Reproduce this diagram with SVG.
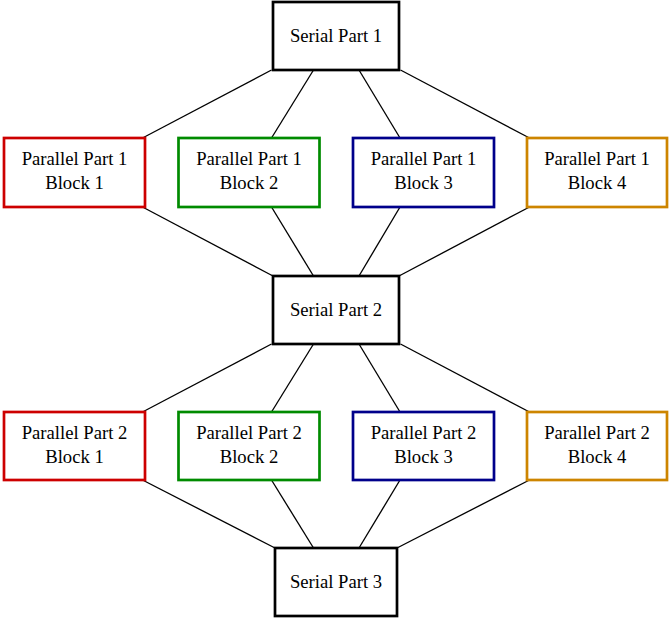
<svg xmlns="http://www.w3.org/2000/svg" width="669" height="619" viewBox="0 0 669 619">
<style>
.box{fill:#ffffff;stroke-width:2.7}
.s{stroke:#000000}
.r{stroke:#cd0000}
.g{stroke:#008b00}
.b{stroke:#00008b}
.o{stroke:#cd8500}
text{font-family:'Liberation Serif','Times New Roman',Times,'DejaVu Serif',serif;font-size:18.67px;fill:#000000;text-anchor:middle}
#edges line{stroke:#000000;stroke-width:1.33}
</style>
<rect width="669" height="619" fill="#ffffff"/>
<g id="edges">
<line x1="271.5" y1="70" x2="142.5" y2="138"/>
<line x1="313.5" y1="70" x2="271.5" y2="138"/>
<line x1="359" y1="70" x2="400" y2="138"/>
<line x1="400.5" y1="70" x2="529.5" y2="138"/>
<line x1="142.5" y1="207" x2="273" y2="276"/>
<line x1="271.5" y1="207" x2="313.5" y2="276"/>
<line x1="400" y1="207" x2="359" y2="276"/>
<line x1="529.5" y1="207" x2="399" y2="276"/>
<line x1="271.5" y1="344" x2="142.5" y2="412"/>
<line x1="313.5" y1="344" x2="271.5" y2="412"/>
<line x1="359" y1="344" x2="400" y2="412"/>
<line x1="400.5" y1="344" x2="529.5" y2="412"/>
<line x1="142.5" y1="480" x2="275" y2="548"/>
<line x1="271.5" y1="480" x2="313.5" y2="548"/>
<line x1="400" y1="480" x2="359" y2="548"/>
<line x1="529.5" y1="480" x2="397" y2="548"/>
</g>
<g font-family="Liberation Serif, serif">
<g id="serial1"><rect class="box s" x="273" y="2" width="126" height="68"/><text x="336" y="41.5">Serial Part 1</text></g>
<g id="p1b1"><rect class="box r" x="4" y="138" width="141" height="69"/><text x="74.5" y="165">Parallel Part 1</text><text x="74.5" y="189">Block 1</text></g>
<g id="p1b2"><rect class="box g" x="178.5" y="138" width="141" height="69"/><text x="249" y="165">Parallel Part 1</text><text x="249" y="189">Block 2</text></g>
<g id="p1b3"><rect class="box b" x="353" y="138" width="141" height="69"/><text x="423.5" y="165">Parallel Part 1</text><text x="423.5" y="189">Block 3</text></g>
<g id="p1b4"><rect class="box o" x="527" y="138" width="140" height="69"/><text x="597" y="165">Parallel Part 1</text><text x="597" y="189">Block 4</text></g>
<g id="serial2"><rect class="box s" x="273" y="276" width="126" height="68"/><text x="336" y="315.5">Serial Part 2</text></g>
<g id="p2b1"><rect class="box r" x="4" y="412" width="141" height="68"/><text x="74.5" y="438.5">Parallel Part 2</text><text x="74.5" y="462.5">Block 1</text></g>
<g id="p2b2"><rect class="box g" x="178.5" y="412" width="141" height="68"/><text x="249" y="438.5">Parallel Part 2</text><text x="249" y="462.5">Block 2</text></g>
<g id="p2b3"><rect class="box b" x="353" y="412" width="141" height="68"/><text x="423.5" y="438.5">Parallel Part 2</text><text x="423.5" y="462.5">Block 3</text></g>
<g id="p2b4"><rect class="box o" x="527" y="412" width="140" height="68"/><text x="597" y="438.5">Parallel Part 2</text><text x="597" y="462.5">Block 4</text></g>
<g id="serial3"><rect class="box s" x="275" y="548" width="122" height="68"/><text x="336" y="588">Serial Part 3</text></g>
</g>
</svg>
